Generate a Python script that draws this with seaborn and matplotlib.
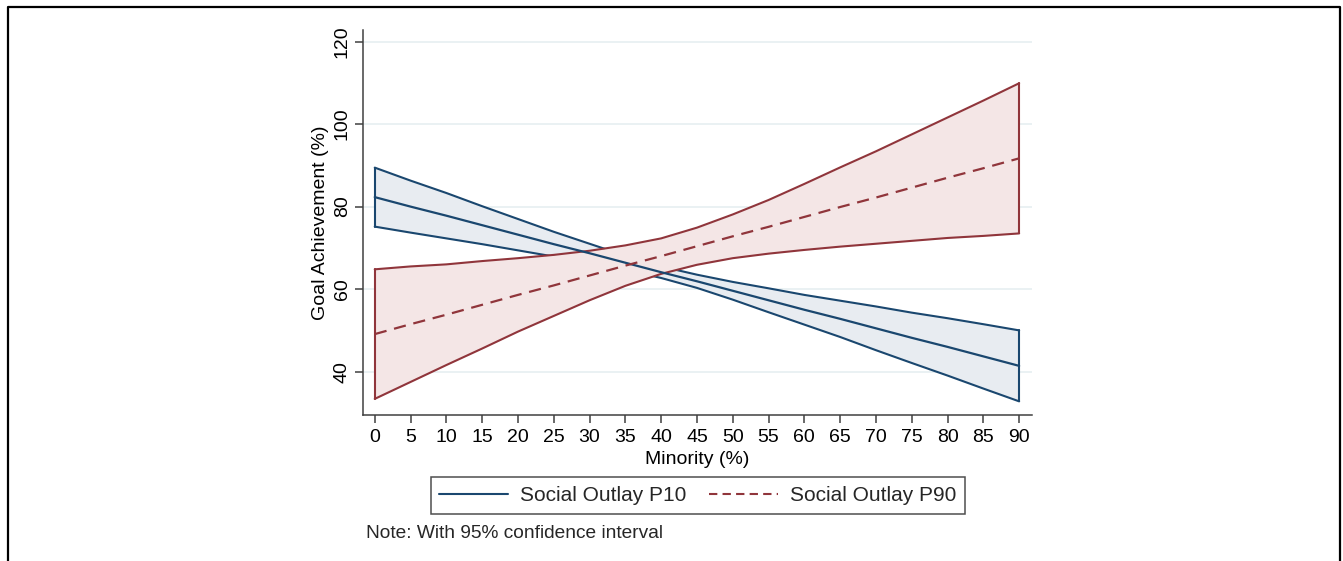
import numpy as np
import pandas as pd
import seaborn as sns
import matplotlib
matplotlib.use("Agg")
import matplotlib.pyplot as plt
from matplotlib.lines import Line2D

# ---- data ----
minority = [0, 5, 10, 15, 20, 25, 30, 35, 40, 45, 50, 55, 60, 65, 70, 75, 80, 85, 90]

p10_mean = [82.3, 80.0, 77.8, 75.5, 73.2, 70.9, 68.7, 66.4, 64.1, 61.9,
            59.6, 57.3, 55.0, 52.8, 50.5, 48.2, 46.0, 43.7, 41.4]
p10_upper = [89.45, 86.3, 83.3, 80.1, 77.0, 73.9, 71.0, 68.1, 65.5, 63.5,
             61.75, 60.2, 58.6, 57.2, 55.8, 54.3, 52.95, 51.5, 50.0]
p10_lower = [75.15, 73.7, 72.3, 70.9, 69.4, 67.9, 66.4, 64.7, 62.7, 60.3,
             57.45, 54.4, 51.4, 48.4, 45.2, 42.1, 39.05, 35.9, 32.8]

p90_mean = [49.1, 51.5, 53.8, 56.2, 58.6, 60.9, 63.3, 65.7, 68.0, 70.4,
            72.8, 75.1, 77.5, 79.9, 82.2, 84.6, 87.0, 89.3, 91.7]
p90_upper = [64.8, 65.5, 66.0, 66.8, 67.5, 68.3, 69.3, 70.6, 72.3, 74.9,
             78.1, 81.6, 85.5, 89.5, 93.4, 97.5, 101.6, 105.7, 109.9]
p90_lower = [33.4, 37.5, 41.6, 45.6, 49.7, 53.5, 57.3, 60.8, 63.7, 65.9,
             67.5, 68.6, 69.5, 70.3, 71.0, 71.7, 72.4, 72.9, 73.5]

series_names = ["Social Outlay P10", "Social Outlay P90"]
x_ticks = list(range(0, 95, 5))
y_ticks = [40, 60, 80, 100, 120]
x_label = "Minority (%)"
y_label = "Goal Achievement (%)"
note_text = "Note: With 95% confidence interval"

# ---- styling ----
sns.set_theme(style="white")
plt.rcParams["font.family"] = ["Liberation Sans", "DejaVu Sans"]

BLUE = "#1a476f"
RED = "#90353b"
BLUE_FILL = "#e8ecf1"
RED_FILL = "#f4e6e6"
GRID = "#e6eff1"
AX = "#404040"
FS = 14.0
FS_LEG = 15.0
FS_NOTE = 13.8

df = pd.DataFrame({
    "x": minority * 2,
    "y": p10_mean + p90_mean,
    "series": [series_names[0]] * len(minority) + [series_names[1]] * len(minority),
})

fig = plt.figure(figsize=(13.43, 5.61), dpi=100)
ax = fig.add_axes([0.2705, 0.2603, 0.4977, 0.6862])

# CI bands (area + outline)
ax.fill_between(minority, p10_lower, p10_upper, color=BLUE_FILL, lw=0, zorder=1)
ax.plot(minority, p10_upper, color=BLUE, lw=1.5, zorder=2)
ax.plot(minority, p10_lower, color=BLUE, lw=1.5, zorder=2)
ax.plot([minority[0]] * 2, [p10_lower[0], p10_upper[0]], color=BLUE, lw=1.5, zorder=2)
ax.plot([minority[-1]] * 2, [p10_lower[-1], p10_upper[-1]], color=BLUE, lw=1.5, zorder=2)

ax.fill_between(minority, p90_lower, p90_upper, color=RED_FILL, lw=0, zorder=3)
ax.plot(minority, p90_upper, color=RED, lw=1.5, zorder=4)
ax.plot(minority, p90_lower, color=RED, lw=1.5, zorder=4)
ax.plot([minority[0]] * 2, [p90_lower[0], p90_upper[0]], color=RED, lw=1.5, zorder=4)
ax.plot([minority[-1]] * 2, [p90_lower[-1], p90_upper[-1]], color=RED, lw=1.5, zorder=4)

# mean lines with seaborn
sns.lineplot(data=df, x="x", y="y", hue="series", style="series",
             palette={series_names[0]: BLUE, series_names[1]: RED},
             dashes={series_names[0]: "", series_names[1]: (5.5, 3.5)},
             linewidth=1.6, ax=ax, legend=False, zorder=5)

ax.set_xlim(-1.6, 91.75)
ax.set_ylim(29.5, 122.8)
ax.set_xticks(x_ticks)
ax.set_yticks(y_ticks)
ax.set_xticklabels([str(t) for t in x_ticks], fontsize=FS)
ax.set_yticklabels([str(t) for t in y_ticks], fontsize=FS, rotation=90, va="center")

ax.yaxis.grid(True, color=GRID, lw=1.2, zorder=0)
ax.xaxis.grid(False)
ax.set_axisbelow(True)

for s in ["top", "right"]:
    ax.spines[s].set_visible(False)
for s in ["left", "bottom"]:
    ax.spines[s].set_color(AX)
    ax.spines[s].set_linewidth(1.1)
ax.tick_params(axis="both", direction="out", length=6, width=1.1, color=AX,
               labelcolor="black", left=True, bottom=True)
ax.tick_params(axis="x", pad=4)
ax.tick_params(axis="y", pad=3)

ax.set_xlabel(x_label, fontsize=FS, color="black")
ax.set_ylabel(y_label, fontsize=FS, color="black")
ax.xaxis.set_label_coords(0.4993, -0.093)
ax.yaxis.set_label_coords(-0.052, 0.5)

handles = [Line2D([], [], color=BLUE, lw=1.5),
           Line2D([], [], color=RED, lw=1.5, dashes=(4, 2.5))]
leg = fig.legend(handles, series_names, loc="center", bbox_to_anchor=(0.5197, 0.1168),
                 ncol=2, frameon=True, fancybox=False, fontsize=FS_LEG,
                 handlelength=3.3, handletextpad=0.58, columnspacing=1.1,
                 borderpad=0.42, borderaxespad=0)
leg.get_frame().set_edgecolor("#222222")
leg.get_frame().set_linewidth(1.1)

fig.text(366 / 1343, 1 - 533 / 561, note_text, fontsize=FS_NOTE, ha="left", va="center")

# outer frame (left, top, right)
fx0, fx1, fy1 = 7.5 / 1343, 1339.5 / 1343, 1 - 6.5 / 561
fig.add_artist(Line2D([fx0, fx0, fx1, fx1], [0, fy1, fy1, 0], color="black",
                      lw=1.6, transform=fig.transFigure))

fig.savefig("out.png", dpi=100)
